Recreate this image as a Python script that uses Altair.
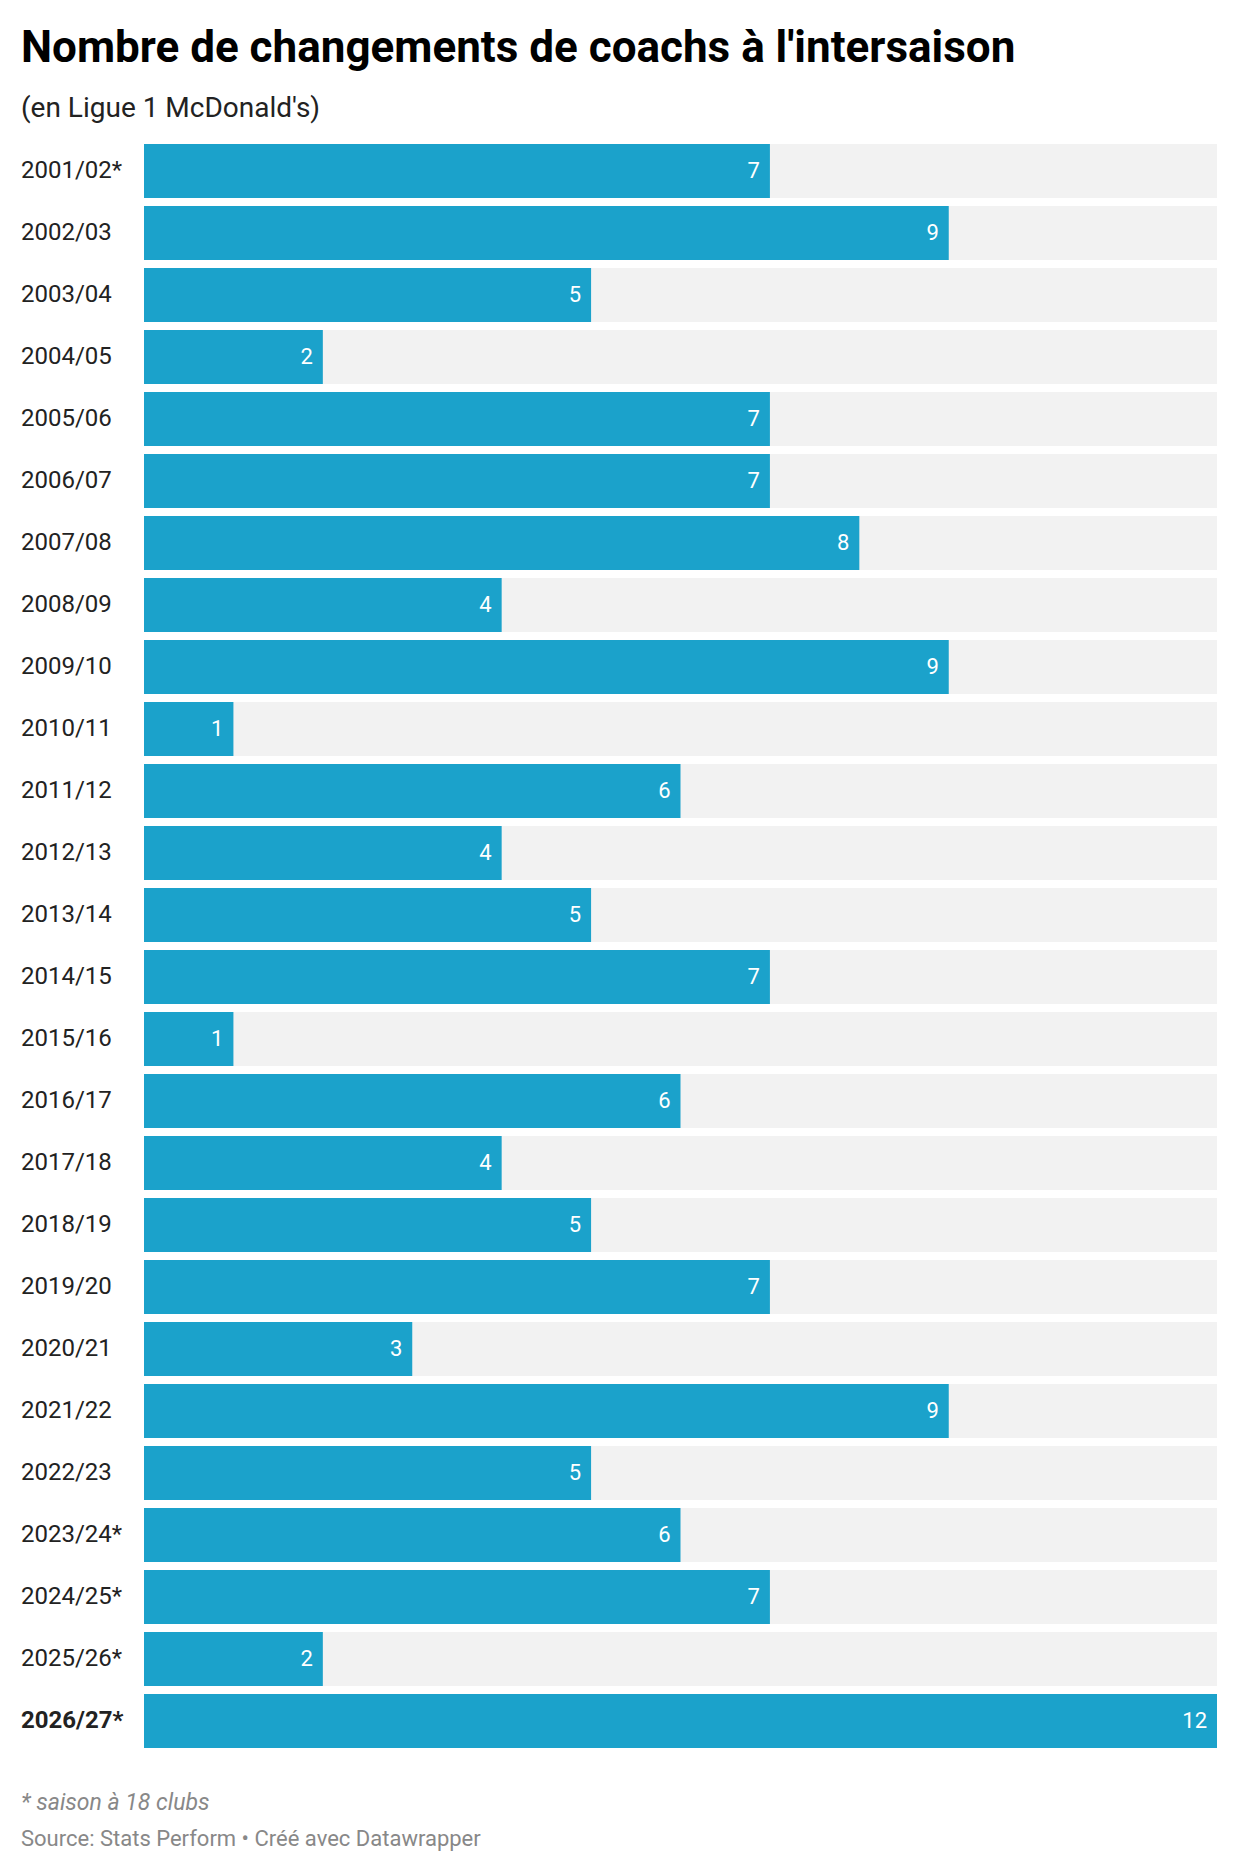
import altair as alt
import pandas as pd

seasons = [
    "2001/02*", "2002/03", "2003/04", "2004/05", "2005/06", "2006/07",
    "2007/08", "2008/09", "2009/10", "2010/11", "2011/12", "2012/13",
    "2013/14", "2014/15", "2015/16", "2016/17", "2017/18", "2018/19",
    "2019/20", "2020/21", "2021/22", "2022/23", "2023/24*", "2024/25*",
    "2025/26*", "2026/27*",
]
changes = [7, 9, 5, 2, 7, 7, 8, 4, 9, 1, 6, 4, 5, 7, 1, 6, 4, 5, 7, 3, 9, 5, 6, 7, 2, 12]
highlight = "2026/27*"
scale_max = 12

df = pd.DataFrame({"season": seasons, "changes": changes})
df["full"] = scale_max

FONT = "Roboto"
BLUE = "#1ba2cb"

y_enc = alt.Y(
    "season:N",
    sort=seasons,
    axis=None,
    scale=alt.Scale(paddingInner=0.129, paddingOuter=0.0645),
)
x_scale = alt.Scale(domain=[0, scale_max], nice=False)

base = alt.Chart(df)

track = base.mark_bar(color="#f2f2f2").encode(
    y=y_enc, x=alt.X("full:Q", scale=x_scale, axis=None)
)
bars = base.mark_bar(color=BLUE).encode(
    y=y_enc, x=alt.X("changes:Q", scale=x_scale, axis=None)
)
values = base.mark_text(
    align="right", baseline="middle", dx=-10, dy=0, color="white",
    font=FONT, fontSize=22,
).encode(
    y=y_enc, x=alt.X("changes:Q", scale=x_scale), text="changes:Q"
)

label_style = dict(align="left", baseline="middle", dy=0, color="#222222",
                   font=FONT, fontSize=24)
labels = base.mark_text(**label_style).encode(
    y=y_enc, x=alt.value(-123), text="season:N"
).transform_filter(alt.datum.season != highlight)
labels_bold = base.mark_text(fontWeight="bold", **label_style).encode(
    y=y_enc, x=alt.value(-123), text="season:N"
).transform_filter(alt.datum.season == highlight)

footnote = "* saison à 18 clubs"
source = "Source: Stats Perform • Créé avec Datawrapper"
foot_style = dict(align="left", baseline="middle", color="#888888", font=FONT)
note_mark = alt.Chart().mark_text(
    fontStyle="italic", fontSize=23, text=footnote, **foot_style
).encode(x=alt.value(-123), y=alt.value(1663))
source_mark = alt.Chart().mark_text(
    fontSize=22, text=source, **foot_style
).encode(x=alt.value(-123), y=alt.value(1699))

chart = (
    alt.layer(track, bars, values, labels, labels_bold, note_mark, source_mark)
    .properties(
        width=1073,
        height=1612,
        padding={"left": 144, "top": 140, "right": 23, "bottom": 120},
        autosize=alt.AutoSizeParams(type="none"),
        title=alt.TitleParams(
            text="Nombre de changements de coachs à l'intersaison",
            subtitle="(en Ligue 1 McDonald's)",
            anchor="start",
            frame="group",
            dx=-123,
            offset=17,
            font=FONT,
            fontSize=44,
            fontWeight="bold",
            color="#000000",
            subtitleFont=FONT,
            subtitleFontSize=28,
            subtitleColor="#222222",
            subtitlePadding=24,
        ),
    )
    .configure_view(stroke=None)
)

chart.save("out.html", embed_options={"renderer": "svg", "actions": False})
